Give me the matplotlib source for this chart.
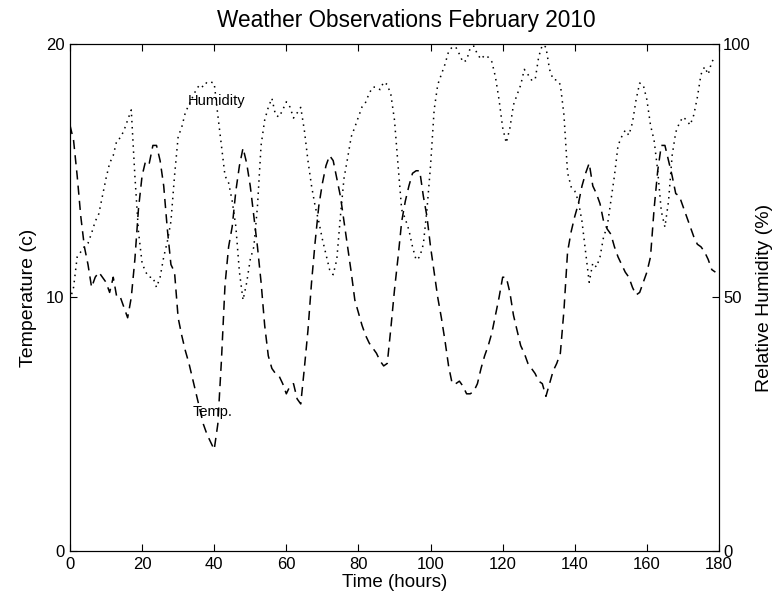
import matplotlib
matplotlib.use("Agg")
import matplotlib.pyplot as plt

# hourly observations
hours = list(range(180))

temp = [16.8, 16.2, 14.8, 13.2, 12.0, 11.3, 10.4, 10.8, 11.0, 10.8,
        10.6, 10.2, 10.8, 10.0, 10.0, 9.6, 9.2, 10.0, 11.5, 13.5,
        14.8, 15.4, 15.3, 16.0, 16.0, 15.4, 14.4, 12.7, 11.3, 11.0,
        9.2, 8.5, 7.9, 7.4, 6.8, 6.2, 5.6, 5.0, 4.6, 4.3,
        4.0, 5.0, 7.5, 10.5, 12.0, 12.8, 14.2, 15.2, 15.9, 15.3,
        14.4, 13.2, 12.0, 10.6, 8.9, 7.7, 7.2, 7.0, 6.9, 6.6,
        6.2, 6.5, 6.6, 6.0, 5.8, 7.2, 8.7, 10.6, 12.2, 13.6,
        14.5, 15.2, 15.6, 15.4, 14.7, 14.0, 13.0, 12.0, 11.0, 9.9,
        9.4, 8.9, 8.5, 8.2, 8.0, 7.8, 7.5, 7.3, 7.4, 8.8,
        10.3, 11.6, 13.0, 13.8, 14.4, 14.9, 15.0, 15.0, 14.0, 13.2,
        12.0, 11.0, 10.0, 9.2, 8.3, 7.3, 6.6, 6.6, 6.7, 6.5,
        6.2, 6.2, 6.3, 6.6, 7.2, 7.7, 8.1, 8.6, 9.3, 10.0,
        10.8, 10.8, 10.2, 9.3, 8.7, 8.1, 7.8, 7.4, 7.2, 7.0,
        6.7, 6.6, 6.1, 6.6, 7.1, 7.4, 7.8, 9.5, 11.8, 12.6,
        13.2, 13.7, 14.4, 14.9, 15.3, 14.4, 14.1, 13.7, 13.0, 12.7,
        12.5, 12.0, 11.6, 11.3, 11.0, 10.8, 10.4, 10.1, 10.2, 10.6,
        11.0, 11.6, 13.5, 15.0, 16.0, 16.0, 15.4, 14.8, 14.1, 14.0,
        13.6, 13.2, 12.8, 12.4, 12.1, 12.0, 11.8, 11.5, 11.1, 11.0]

humidity = [49.5, 52, 58, 59, 60, 60.7, 62.7, 65, 66.5, 70,
            73.5, 76.5, 78, 81, 81.5, 83, 85, 87, 74, 63,
            56.8, 55, 54, 54, 52, 54, 58, 61, 65, 74,
            81.7, 83.6, 86.5, 88, 89.5, 91, 92, 91.5, 92.5, 92.5,
            92.3, 86, 80, 74, 72.6, 69, 64, 55, 49.5, 52.9,
            57.5, 60, 68, 80, 85, 87.5, 89.3, 86, 85.6, 87,
            88.6, 87.6, 85.4, 86.4, 87.5, 83, 77, 72, 68, 65,
            61.5, 58.5, 55.5, 54.5, 57.5, 66, 73.5, 77.5, 81.7, 83.6,
            85.6, 87.6, 88.5, 90.3, 91.5, 91.5, 91, 92.5, 92, 90,
            85, 76, 67.3, 65.5, 63.3, 60, 57.4, 58, 60.5, 67.3,
            76, 87, 92, 94, 96, 98.5, 99.4, 99.4, 98, 96.4,
            96.8, 99.2, 99.6, 98, 97, 97.8, 97.4, 96.5, 93.5, 89,
            83.5, 80.5, 83.4, 88, 90, 91.9, 95, 94, 92.9, 92.9,
            97.5, 99.8, 99.4, 95, 93, 92.9, 92, 86, 74.6, 71.8,
            71, 69, 65, 59, 53, 56.8, 56, 58, 62, 64,
            69, 74, 80, 81.7, 83, 82, 84.5, 89, 92.3, 91.9,
            89, 84, 81, 75, 67, 63.9, 69, 78, 82.6, 84.4,
            85.6, 85, 84, 86, 89.5, 94, 95.5, 94, 96.5, 97.4]

plt.rcParams['font.family'] = ['Liberation Sans', 'DejaVu Sans']

fig = plt.figure(figsize=(7.8, 6.08), dpi=100)
ax = fig.add_axes([0.0897, 0.0938, 0.9218 - 0.0897, 0.9276 - 0.0938])
ax2 = ax.twinx()

ax.plot(hours, temp, color='k', linestyle=(0, (6, 4)), linewidth=1.1)
ax2.plot(hours, humidity, color='k', linestyle=(0, (1, 3)), linewidth=1.1)

ax.set_xlim(0, 180)
ax.set_ylim(0, 20)
ax2.set_ylim(0, 100)
ax.set_xticks(range(0, 181, 20))
ax.set_yticks([0, 10, 20])
ax2.set_yticks([0, 50, 100])

ax.tick_params(axis='x', direction='in', top=True, length=5, pad=4, labelsize=12)
ax.tick_params(axis='y', direction='in', right=False, length=5, pad=4, labelsize=12)
ax2.tick_params(axis='y', direction='in', length=5, pad=3, labelsize=12)

ax.set_xlabel('Time (hours)', fontsize=13.5, labelpad=2)
ax.set_ylabel('Temperature (c)', fontsize=14, labelpad=6)
ax2.set_ylabel('Relative Humidity (%)', fontsize=14, labelpad=4)
ax.set_title('Weather Observations February 2010', fontsize=16.3, x=0.518, pad=12)

ax.text(32.7, 17.75, 'Humidity', fontsize=10.5, va='center', ha='left')
ax.text(34.1, 5.5, 'Temp.', fontsize=10.5, va='center', ha='left')

fig.savefig('out.png', dpi=100)
